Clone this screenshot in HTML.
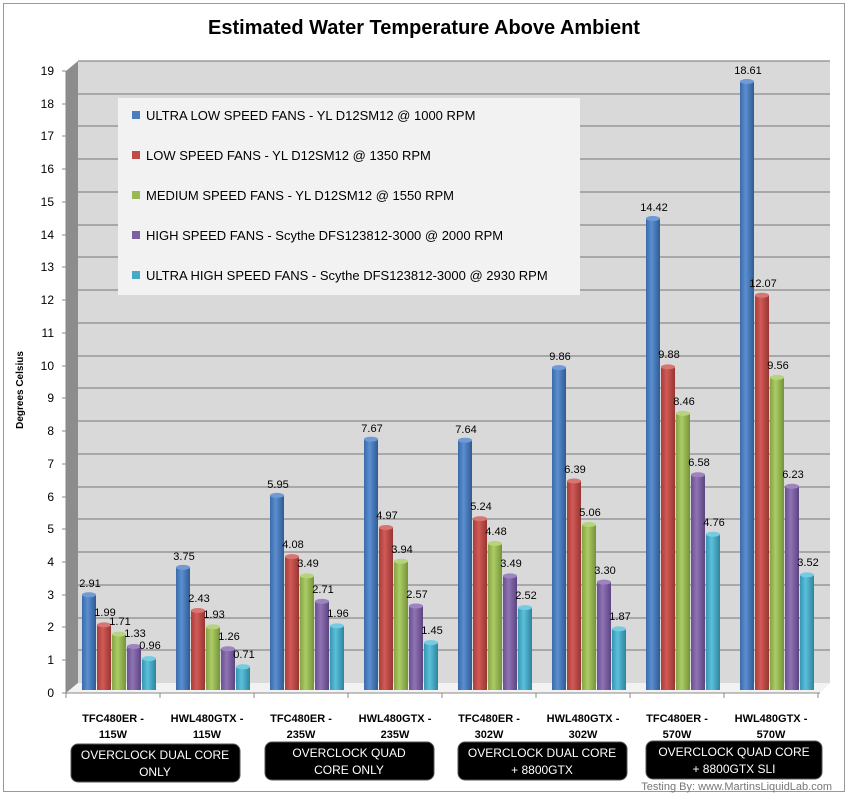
<!DOCTYPE html>
<html><head><meta charset="utf-8"><style>
body{margin:0;background:#fff;}
svg{display:block;font-family:"Liberation Sans",sans-serif;}
.v{font-size:11px;fill:#000;text-anchor:middle;}
.t{font-size:12px;fill:#000;text-anchor:end;}
.c{font-size:11px;font-weight:bold;text-anchor:middle;fill:#000;}
.b{font-size:12px;fill:#fff;text-anchor:middle;}
.l{font-size:13px;fill:#000;}
</style></head><body>
<svg width="848" height="795" viewBox="0 0 848 795">
<defs>
<linearGradient id="g0"><stop offset="0" stop-color="#3a6aa8"/><stop offset=".4" stop-color="#5b8fd0"/><stop offset="1" stop-color="#2f5a94"/></linearGradient>
<linearGradient id="g1"><stop offset="0" stop-color="#a83d3a"/><stop offset=".4" stop-color="#d25a56"/><stop offset="1" stop-color="#963532"/></linearGradient>
<linearGradient id="g2"><stop offset="0" stop-color="#84a444"/><stop offset=".4" stop-color="#abcc66"/><stop offset="1" stop-color="#759338"/></linearGradient>
<linearGradient id="g3"><stop offset="0" stop-color="#6a5090"/><stop offset=".4" stop-color="#8f73b4"/><stop offset="1" stop-color="#5c4480"/></linearGradient>
<linearGradient id="g4"><stop offset="0" stop-color="#3696b0"/><stop offset=".4" stop-color="#5cc0dc"/><stop offset="1" stop-color="#2c849c"/></linearGradient>
</defs>
<rect x="3.5" y="3.5" width="841" height="788" fill="#fff" stroke="#999"/>
<text x="424" y="34" text-anchor="middle" font-size="20" font-weight="bold">Estimated Water Temperature Above Ambient</text>
<rect x="78" y="61" width="752" height="622" fill="#d9d9d9"/>
<polygon points="66,71 78,61 78,683 66,693" fill="#8c8c8c"/>
<polygon points="66,693 78,683 830,683 820,693" fill="#f2f2f2"/>
<g stroke="#8a8a8a" stroke-width="1.2">
<line x1="78" y1="650" x2="830" y2="650"/><line x1="78" y1="618" x2="830" y2="618"/><line x1="78" y1="585" x2="830" y2="585"/><line x1="78" y1="552" x2="830" y2="552"/><line x1="78" y1="519" x2="830" y2="519"/><line x1="78" y1="487" x2="830" y2="487"/><line x1="78" y1="454" x2="830" y2="454"/><line x1="78" y1="421" x2="830" y2="421"/><line x1="78" y1="388" x2="830" y2="388"/><line x1="78" y1="356" x2="830" y2="356"/><line x1="78" y1="323" x2="830" y2="323"/><line x1="78" y1="290" x2="830" y2="290"/><line x1="78" y1="257" x2="830" y2="257"/><line x1="78" y1="225" x2="830" y2="225"/><line x1="78" y1="192" x2="830" y2="192"/><line x1="78" y1="159" x2="830" y2="159"/><line x1="78" y1="126" x2="830" y2="126"/><line x1="78" y1="94" x2="830" y2="94"/><line x1="78" y1="61" x2="830" y2="61"/>
</g>
<g stroke="#888"><line x1="66" y1="71" x2="66" y2="693"/><line x1="66" y1="693" x2="820" y2="693"/>
<line x1="62" y1="693" x2="66" y2="693"/><line x1="62" y1="660" x2="66" y2="660"/><line x1="62" y1="627" x2="66" y2="627"/><line x1="62" y1="595" x2="66" y2="595"/><line x1="62" y1="562" x2="66" y2="562"/><line x1="62" y1="529" x2="66" y2="529"/><line x1="62" y1="497" x2="66" y2="497"/><line x1="62" y1="464" x2="66" y2="464"/><line x1="62" y1="431" x2="66" y2="431"/><line x1="62" y1="398" x2="66" y2="398"/><line x1="62" y1="366" x2="66" y2="366"/><line x1="62" y1="333" x2="66" y2="333"/><line x1="62" y1="300" x2="66" y2="300"/><line x1="62" y1="267" x2="66" y2="267"/><line x1="62" y1="235" x2="66" y2="235"/><line x1="62" y1="202" x2="66" y2="202"/><line x1="62" y1="169" x2="66" y2="169"/><line x1="62" y1="136" x2="66" y2="136"/><line x1="62" y1="104" x2="66" y2="104"/><line x1="62" y1="71" x2="66" y2="71"/>
<line x1="66" y1="693" x2="66" y2="698"/><line x1="160" y1="693" x2="160" y2="698"/><line x1="254" y1="693" x2="254" y2="698"/><line x1="348" y1="693" x2="348" y2="698"/><line x1="442" y1="693" x2="442" y2="698"/><line x1="536" y1="693" x2="536" y2="698"/><line x1="630" y1="693" x2="630" y2="698"/><line x1="724" y1="693" x2="724" y2="698"/><line x1="818" y1="693" x2="818" y2="698"/>
</g>
<g class="t">
<text x="54" y="697" class="t">0</text><text x="54" y="664" class="t">1</text><text x="54" y="631" class="t">2</text><text x="54" y="599" class="t">3</text><text x="54" y="566" class="t">4</text><text x="54" y="533" class="t">5</text><text x="54" y="501" class="t">6</text><text x="54" y="468" class="t">7</text><text x="54" y="435" class="t">8</text><text x="54" y="402" class="t">9</text><text x="54" y="370" class="t">10</text><text x="54" y="337" class="t">11</text><text x="54" y="304" class="t">12</text><text x="54" y="271" class="t">13</text><text x="54" y="239" class="t">14</text><text x="54" y="206" class="t">15</text><text x="54" y="173" class="t">16</text><text x="54" y="140" class="t">17</text><text x="54" y="108" class="t">18</text><text x="54" y="75" class="t">19</text>
</g>
<text transform="translate(23,390) rotate(-90)" text-anchor="middle" font-size="10" font-weight="bold">Degrees Celsius</text>
<rect x="118" y="98" width="462" height="197" fill="#f2f2f2"/>
<rect x="132" y="111" width="8" height="8" fill="#4a7ebb"/><text class="l" x="146" y="120">ULTRA LOW SPEED FANS - YL D12SM12 @ 1000 RPM</text>
<rect x="132" y="151" width="8" height="8" fill="#be4b48"/><text class="l" x="146" y="160">LOW SPEED FANS - YL D12SM12 @ 1350 RPM</text>
<rect x="132" y="191" width="8" height="8" fill="#98b954"/><text class="l" x="146" y="200">MEDIUM SPEED FANS - YL D12SM12 @ 1550 RPM</text>
<rect x="132" y="231" width="8" height="8" fill="#7d60a0"/><text class="l" x="146" y="240">HIGH SPEED FANS - Scythe DFS123812-3000 @ 2000 RPM</text>
<rect x="132" y="271" width="8" height="8" fill="#46aac5"/><text class="l" x="146" y="280">ULTRA HIGH SPEED FANS - Scythe DFS123812-3000 @ 2930 RPM</text>
<g id="bars">
<rect x="82" y="594.8" width="14" height="95.2" fill="url(#g0)"/><ellipse cx="89" cy="594.8" rx="7" ry="2.5" fill="#6f9ad4"/>
<rect x="97" y="624.9" width="14" height="65.1" fill="url(#g1)"/><ellipse cx="104" cy="624.9" rx="7" ry="2.5" fill="#d87572"/>
<rect x="112" y="634.1" width="14" height="55.9" fill="url(#g2)"/><ellipse cx="119" cy="634.1" rx="7" ry="2.5" fill="#b6d47e"/>
<rect x="127" y="646.5" width="14" height="43.5" fill="url(#g3)"/><ellipse cx="134" cy="646.5" rx="7" ry="2.5" fill="#9d84bf"/>
<rect x="142" y="658.6" width="14" height="31.4" fill="url(#g4)"/><ellipse cx="149" cy="658.6" rx="7" ry="2.5" fill="#74cbe2"/>
<rect x="176" y="567.4" width="14" height="122.6" fill="url(#g0)"/><ellipse cx="183" cy="567.4" rx="7" ry="2.5" fill="#6f9ad4"/>
<rect x="191" y="610.5" width="14" height="79.5" fill="url(#g1)"/><ellipse cx="198" cy="610.5" rx="7" ry="2.5" fill="#d87572"/>
<rect x="206" y="626.9" width="14" height="63.1" fill="url(#g2)"/><ellipse cx="213" cy="626.9" rx="7" ry="2.5" fill="#b6d47e"/>
<rect x="221" y="648.8" width="14" height="41.2" fill="url(#g3)"/><ellipse cx="228" cy="648.8" rx="7" ry="2.5" fill="#9d84bf"/>
<rect x="236" y="666.8" width="14" height="23.2" fill="url(#g4)"/><ellipse cx="243" cy="666.8" rx="7" ry="2.5" fill="#74cbe2"/>
<rect x="270" y="495.4" width="14" height="194.6" fill="url(#g0)"/><ellipse cx="277" cy="495.4" rx="7" ry="2.5" fill="#6f9ad4"/>
<rect x="285" y="556.6" width="14" height="133.4" fill="url(#g1)"/><ellipse cx="292" cy="556.6" rx="7" ry="2.5" fill="#d87572"/>
<rect x="300" y="575.9" width="14" height="114.1" fill="url(#g2)"/><ellipse cx="307" cy="575.9" rx="7" ry="2.5" fill="#b6d47e"/>
<rect x="315" y="601.4" width="14" height="88.6" fill="url(#g3)"/><ellipse cx="322" cy="601.4" rx="7" ry="2.5" fill="#9d84bf"/>
<rect x="330" y="625.9" width="14" height="64.1" fill="url(#g4)"/><ellipse cx="337" cy="625.9" rx="7" ry="2.5" fill="#74cbe2"/>
<rect x="364" y="439.2" width="14" height="250.8" fill="url(#g0)"/><ellipse cx="371" cy="439.2" rx="7" ry="2.5" fill="#6f9ad4"/>
<rect x="379" y="527.5" width="14" height="162.5" fill="url(#g1)"/><ellipse cx="386" cy="527.5" rx="7" ry="2.5" fill="#d87572"/>
<rect x="394" y="561.2" width="14" height="128.8" fill="url(#g2)"/><ellipse cx="401" cy="561.2" rx="7" ry="2.5" fill="#b6d47e"/>
<rect x="409" y="606" width="14" height="84" fill="url(#g3)"/><ellipse cx="416" cy="606" rx="7" ry="2.5" fill="#9d84bf"/>
<rect x="424" y="642.6" width="14" height="47.4" fill="url(#g4)"/><ellipse cx="431" cy="642.6" rx="7" ry="2.5" fill="#74cbe2"/>
<rect x="458" y="440.2" width="14" height="249.8" fill="url(#g0)"/><ellipse cx="465" cy="440.2" rx="7" ry="2.5" fill="#6f9ad4"/>
<rect x="473" y="518.7" width="14" height="171.3" fill="url(#g1)"/><ellipse cx="480" cy="518.7" rx="7" ry="2.5" fill="#d87572"/>
<rect x="488" y="543.5" width="14" height="146.5" fill="url(#g2)"/><ellipse cx="495" cy="543.5" rx="7" ry="2.5" fill="#b6d47e"/>
<rect x="503" y="575.9" width="14" height="114.1" fill="url(#g3)"/><ellipse cx="510" cy="575.9" rx="7" ry="2.5" fill="#9d84bf"/>
<rect x="518" y="607.6" width="14" height="82.4" fill="url(#g4)"/><ellipse cx="525" cy="607.6" rx="7" ry="2.5" fill="#74cbe2"/>
<rect x="552" y="367.6" width="14" height="322.4" fill="url(#g0)"/><ellipse cx="559" cy="367.6" rx="7" ry="2.5" fill="#6f9ad4"/>
<rect x="567" y="481" width="14" height="209" fill="url(#g1)"/><ellipse cx="574" cy="481" rx="7" ry="2.5" fill="#d87572"/>
<rect x="582" y="524.5" width="14" height="165.5" fill="url(#g2)"/><ellipse cx="589" cy="524.5" rx="7" ry="2.5" fill="#b6d47e"/>
<rect x="597" y="582.1" width="14" height="107.9" fill="url(#g3)"/><ellipse cx="604" cy="582.1" rx="7" ry="2.5" fill="#9d84bf"/>
<rect x="612" y="628.9" width="14" height="61.1" fill="url(#g4)"/><ellipse cx="619" cy="628.9" rx="7" ry="2.5" fill="#74cbe2"/>
<rect x="646" y="218.5" width="14" height="471.5" fill="url(#g0)"/><ellipse cx="653" cy="218.5" rx="7" ry="2.5" fill="#6f9ad4"/>
<rect x="661" y="366.9" width="14" height="323.1" fill="url(#g1)"/><ellipse cx="668" cy="366.9" rx="7" ry="2.5" fill="#d87572"/>
<rect x="676" y="413.4" width="14" height="276.6" fill="url(#g2)"/><ellipse cx="683" cy="413.4" rx="7" ry="2.5" fill="#b6d47e"/>
<rect x="691" y="474.8" width="14" height="215.2" fill="url(#g3)"/><ellipse cx="698" cy="474.8" rx="7" ry="2.5" fill="#9d84bf"/>
<rect x="706" y="534.3" width="14" height="155.7" fill="url(#g4)"/><ellipse cx="713" cy="534.3" rx="7" ry="2.5" fill="#74cbe2"/>
<rect x="740" y="81.5" width="14" height="608.5" fill="url(#g0)"/><ellipse cx="747" cy="81.5" rx="7" ry="2.5" fill="#6f9ad4"/>
<rect x="755" y="295.3" width="14" height="394.7" fill="url(#g1)"/><ellipse cx="762" cy="295.3" rx="7" ry="2.5" fill="#d87572"/>
<rect x="770" y="377.4" width="14" height="312.6" fill="url(#g2)"/><ellipse cx="777" cy="377.4" rx="7" ry="2.5" fill="#b6d47e"/>
<rect x="785" y="486.3" width="14" height="203.7" fill="url(#g3)"/><ellipse cx="792" cy="486.3" rx="7" ry="2.5" fill="#9d84bf"/>
<rect x="800" y="574.9" width="14" height="115.1" fill="url(#g4)"/><ellipse cx="807" cy="574.9" rx="7" ry="2.5" fill="#74cbe2"/>
</g>
<g class="v">
<text class="v" x="90" y="587">2.91</text><text class="v" x="105" y="616">1.99</text><text class="v" x="120" y="625">1.71</text><text class="v" x="135" y="637">1.33</text><text class="v" x="150" y="649">0.96</text>
<text class="v" x="184" y="560">3.75</text><text class="v" x="199" y="602">2.43</text><text class="v" x="214" y="618">1.93</text><text class="v" x="229" y="640">1.26</text><text class="v" x="244" y="658">0.71</text>
<text class="v" x="278" y="488">5.95</text><text class="v" x="293" y="548">4.08</text><text class="v" x="308" y="567">3.49</text><text class="v" x="323" y="593">2.71</text><text class="v" x="338" y="617">1.96</text>
<text class="v" x="372" y="432">7.67</text><text class="v" x="387" y="519">4.97</text><text class="v" x="402" y="553">3.94</text><text class="v" x="417" y="598">2.57</text><text class="v" x="432" y="634">1.45</text>
<text class="v" x="466" y="433">7.64</text><text class="v" x="481" y="510">5.24</text><text class="v" x="496" y="535">4.48</text><text class="v" x="511" y="567">3.49</text><text class="v" x="526" y="599">2.52</text>
<text class="v" x="560" y="360">9.86</text><text class="v" x="575" y="473">6.39</text><text class="v" x="590" y="516">5.06</text><text class="v" x="605" y="574">3.30</text><text class="v" x="620" y="620">1.87</text>
<text class="v" x="654" y="211">14.42</text><text class="v" x="669" y="358">9.88</text><text class="v" x="684" y="405">8.46</text><text class="v" x="699" y="466">6.58</text><text class="v" x="714" y="526">4.76</text>
<text class="v" x="748" y="74">18.61</text><text class="v" x="763" y="287">12.07</text><text class="v" x="778" y="369">9.56</text><text class="v" x="793" y="478">6.23</text><text class="v" x="808" y="566">3.52</text>
</g>
<g class="c">
<text class="c" x="113" y="722">TFC480ER -</text><text class="c" x="113" y="738">115W</text>
<text class="c" x="207" y="722">HWL480GTX -</text><text class="c" x="207" y="738">115W</text>
<text class="c" x="301" y="722">TFC480ER -</text><text class="c" x="301" y="738">235W</text>
<text class="c" x="395" y="722">HWL480GTX -</text><text class="c" x="395" y="738">235W</text>
<text class="c" x="489" y="722">TFC480ER -</text><text class="c" x="489" y="738">302W</text>
<text class="c" x="583" y="722">HWL480GTX -</text><text class="c" x="583" y="738">302W</text>
<text class="c" x="677" y="722">TFC480ER -</text><text class="c" x="677" y="738">570W</text>
<text class="c" x="771" y="722">HWL480GTX -</text><text class="c" x="771" y="738">570W</text>
</g>
<rect x="71" y="744" width="169" height="38" rx="7" fill="#000" stroke="#555"/>
<text class="b" x="155" y="759">OVERCLOCK DUAL CORE</text><text class="b" x="155" y="776">ONLY</text>
<rect x="265" y="742" width="169" height="38" rx="7" fill="#000" stroke="#555"/>
<text class="b" x="349" y="757">OVERCLOCK QUAD</text><text class="b" x="349" y="774">CORE ONLY</text>
<rect x="458" y="742" width="169" height="38" rx="7" fill="#000" stroke="#555"/>
<text class="b" x="542" y="757">OVERCLOCK DUAL CORE</text><text class="b" x="542" y="774">+ 8800GTX</text>
<rect x="646" y="741" width="176" height="38" rx="7" fill="#000" stroke="#555"/>
<text class="b" x="734" y="756">OVERCLOCK QUAD CORE</text><text class="b" x="734" y="773">+ 8800GTX SLI</text>
<text x="832" y="790" text-anchor="end" font-size="11" fill="#777">Testing By: www.MartinsLiquidLab.com</text>
</svg>
</body></html>
